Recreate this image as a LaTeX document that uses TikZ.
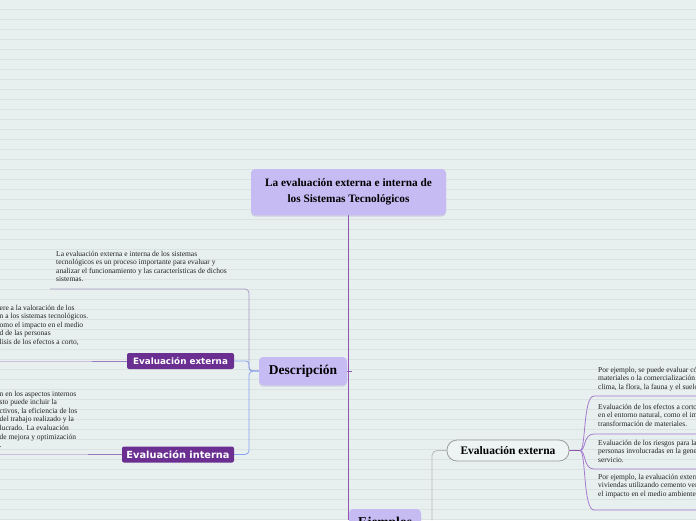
\documentclass[tikz,border=0pt]{standalone}
\usepackage{fontspec}
\setmainfont{Liberation Serif}
\newfontfamily\dvsans{DejaVu Sans}
\usetikzlibrary{shadows,backgrounds}
\definecolor{bg}{HTML}{E8F0EF}
\definecolor{bgline}{HTML}{DAE3E2}
\definecolor{lav}{HTML}{C7BBF3}
\definecolor{lavshadow}{HTML}{9F93CC}
\definecolor{mainline}{HTML}{9052B3}
\definecolor{darkpurple}{HTML}{6B2F92}
\definecolor{blueln}{HTML}{86A2F0}
\definecolor{descln}{HTML}{A89BC4}
\definecolor{lightul}{HTML}{CBBEE2}
\definecolor{ulpurple}{HTML}{9A78C2}
\definecolor{branch}{HTML}{A47BCF}
\definecolor{greyln}{HTML}{B8B8B8}
\definecolor{greyborder}{HTML}{9C9C9C}
\definecolor{pill}{HTML}{EEF4F3}
\definecolor{txt}{HTML}{222222}
\begin{document}
\begin{tikzpicture}[x=1pt,y=-1pt,
  lavbox/.style={fill=lav, rounded corners=4pt, draw=none, text=black, inner sep=0pt,
    drop shadow={shadow xshift=0pt, shadow yshift=-1.5pt, opacity=0.35, fill=lavshadow}},
  darkbox/.style={fill=darkpurple, rounded corners=2pt, text=white, inner sep=0pt},
  bodytext/.style={font=\fontsize{7.5}{8.5}\selectfont, text=txt, align=left, inner sep=0pt, anchor=base west},
  mainln/.style={draw=mainline, line width=1pt},
  conn/.style={line width=0.8pt}]
\useasboundingbox (0,0) rectangle (696,520);

% nodes
\node[lavbox, minimum width=195pt, minimum height=46pt, align=center,
  font=\fontsize{11.3}{16}\selectfont\bfseries] (title) at (348.5,192)
  {La evaluación externa e interna de\\los Sistemas Tecnológicos};
\node[lavbox, minimum width=88pt, minimum height=28pt,
  font=\fontsize{13.5}{16}\selectfont\bfseries] (desc) at (303,371) {Descripción};
\node[lavbox, minimum width=72pt, minimum height=26pt, text depth=0pt,
  font=\fontsize{13.5}{16}\selectfont\bfseries] (ejem) at (385,522) {Ejemplos};

\node[darkbox, minimum width=107pt, minimum height=16pt,
  font=\fontsize{8.8}{10}\selectfont\dvsans\bfseries] (extL) at (180.5,361) {Evaluación externa};
\node[darkbox, minimum width=112pt, minimum height=16pt,
  font=\fontsize{9.8}{11}\selectfont\dvsans\bfseries] (intL) at (178,454.5) {Evaluación interna};

\node[draw=greyborder, line width=0.8pt, fill=pill, rounded corners=10pt, minimum width=122pt,
  minimum height=21pt, inner sep=0pt, font=\fontsize{11.5}{13}\selectfont\bfseries] (evR) at (508,450.5) {Evaluación externa};

% multi-line texts: base anchor = baseline of the last line
\node[bodytext] (dtext) at (56,281.5) {La evaluación externa e interna de los sistemas\\tecnológicos es un proceso importante para evaluar y\\analizar el funcionamiento y las características de dichos\\sistemas.};
\node[bodytext] (etext) at (-0.5,344) {ere a la valoración de los\\n a los sistemas tecnológicos.\\omo el impacto en el medio\\d de las personas\\lisis de los efectos a corto,};
\node[bodytext, font=\fontsize{7.5}{8.6}\selectfont] (itext) at (-0.5,447.6) {n en los aspectos internos\\sto puede incluir la\\ctivos, la eficiencia de los\\del trabajo realizado y la\\lucrado. La evaluación\\de mejora y optimización\\.};

\node[bodytext] (r1) at (598,389) {Por ejemplo, se puede evaluar có\\materiales o la comercialización\\clima, la flora, la fauna y el suelo};
\node[bodytext] (r2) at (598,426) {Evaluación de los efectos a corto\\en el entorno natural, como el im\\transformación de materiales.};
\node[bodytext] (r3) at (598,462) {Evaluación de los riesgos para la\\personas involucradas en la gene\\servicio.};
\node[bodytext] (r4) at (598,496) {Por ejemplo, la evaluación extern\\viviendas utilizando cemento ver\\el impacto en el medio ambiente};

\coordinate (mainend) at (349,520);
\coordinate (dj) at (249,371);
\coordinate (dul) at (50,289);
\coordinate (eul) at (0,361);
\coordinate (emid) at (92,361);
\coordinate (iul) at (0,454.5);
\coordinate (imid) at (88,454.5);
\coordinate (fork) at (580,450.5);
\coordinate (gend) at (432,520);
\coordinate (r1a) at (594,396);   \coordinate (r1b) at (696,396);
\coordinate (r2a) at (594,434);   \coordinate (r2b) at (696,434);
\coordinate (r3a) at (594,469);   \coordinate (r3b) at (696,469);
\coordinate (r4a) at (594,510);   \coordinate (r4b) at (696,510);

\begin{scope}[on background layer]
\fill[bg] (0,0) rectangle (696,520);
\foreach \k in {0,...,51} \draw[bgline, line width=0.6pt] (0,{9.3+10*\k}) -- (696,{9.3+10*\k});
\draw[mainln] (title.south) -- (title.south |- mainend);
\draw[mainln] (desc.east) -- (352,371);
\draw[conn, descln, rounded corners=4pt] (desc.west) -- (dj) -- (249,289) -- (dul);
\draw[conn, blueln, rounded corners=3pt] (desc.west) -- (dj) -- (249,361) -- (extL.east);
\draw[conn, blueln, rounded corners=4pt] (desc.west) -- (dj) -- (249,454.5) -- (intL.east);
\draw[conn, ulpurple] (extL.west) -- (emid);
\draw[conn, lightul] (emid) -- (eul);
\draw[conn, ulpurple] (intL.west) -- (imid);
\draw[conn, lightul] (imid) -- (iul);
\draw[conn, greyln, rounded corners=5pt] (evR.west) -- (432,450.5) -- (gend);
\draw[conn, mainline] (evR.east) -- (fork);
\foreach \n in {r1,r2,r3,r4}{
  \draw[conn, branch] (fork) .. controls (586,450.5) and (583,0 |- \n a) .. (\n a) -- (\n b);
}
\end{scope}
\end{tikzpicture}
\end{document}
